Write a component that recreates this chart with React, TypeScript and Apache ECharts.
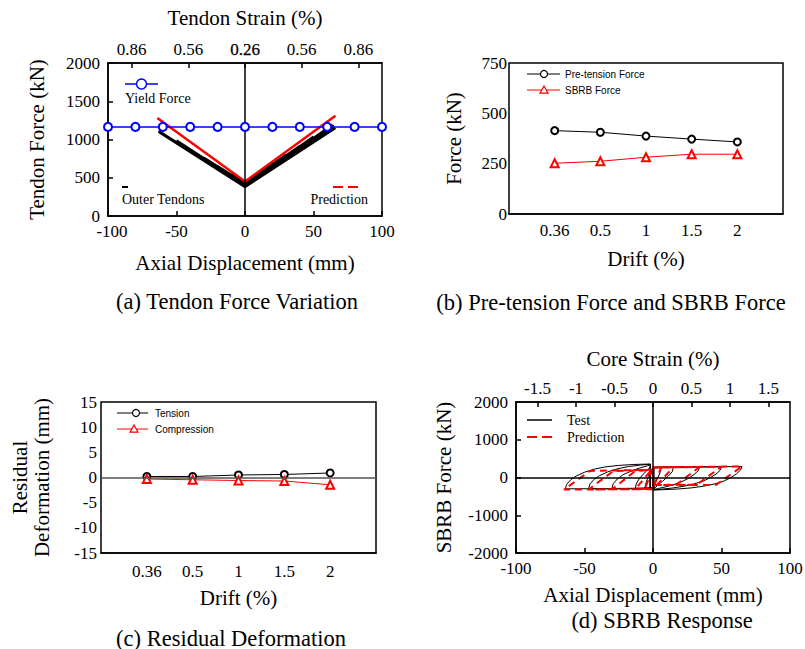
import React, { useEffect, useRef } from 'react';
import * as echarts from 'echarts';

const SERIF = '"Liberation Serif", "Times New Roman", serif';
const SANS = '"Liberation Sans", Arial, sans-serif';

// ---------- (a) Tendon Force Variation ----------
const tendonStrainPos = [-82.7, -41.35, 0, 41.35, 82.7];
const tendonStrainLabels = ['0.86', '0.56', '0.26', '0.56', '0.86'];
const yieldDisp = [-100, -80, -60, -40, -20, 0, 20, 40, 60, 80, 100];
const yieldForce = 1165;
const outerTendonPath: number[][] = [
  [0, 440], [10, 560], [0, 436], [-10, 545], [0, 432],
  [20, 680], [0, 428], [-20, 650], [0, 424],
  [30, 800], [0, 420], [-30, 760], [0, 416],
  [40, 915], [0, 412], [-40, 870], [0, 408],
  [50, 1035], [0, 404], [-50, 985], [0, 400],
  [64, 1192], [0, 396], [-63, 1112], [0, 392],
  [65, 1180], [0, 388], [-63, 1102], [0, 384],
  [65.5, 1165], [0, 382], [-62, 1090], [0, 380],
  [66, 1150], [0, 385],
];
const tendonPrediction: number[][] = [[-64, 1280], [0, 450], [66, 1310]];

// ---------- (b) & (c) ----------
const driftCats = ['', '0.36', '0.5', '1', '1.5', '2', ''];
const drifts = ['0.36', '0.5', '1', '1.5', '2'];
const pretensionForce = [414, 406, 387, 372, 358];
const sbrbForce = [252, 262, 282, 297, 297];
const residualTension = [0.2, 0.2, 0.5, 0.6, 0.9];
const residualCompression = [-0.3, -0.45, -0.6, -0.7, -1.45];

// ---------- (d) SBRB Response ----------
const coreStrainTicks = [-1.5, -1, -0.5, 0, 0.5, 1, 1.5];
const coreStrainMax = 1.78;
const sbrbTest: number[][] = [
  // right 6
  [0.5, -300], [0.5, 262], [6, 268], [5, 120], [3, -50], [1, -200], [0.5, -300],
  // left 6
  [-1, -280], [-6, -282], [-5, -130], [-3.5, 20], [-2, 150], [-2, -280],
  // right 15
  [0.5, -310], [0.5, 265], [15, 275], [14, 150], [11, 30], [7, -100], [3, -220], [0.5, -310],
  // left 13
  [-1, -283], [-13, -286], [-12, -150], [-10, -30], [-7, 90], [-4, 200], [-2, 280], [-2, -283],
  // right 34
  [0.5, -320], [0.5, 268], [34, 280], [33, 180], [30, 80], [26, -20], [21, -110], [15, -190], [9, -250], [4, -290], [0.5, -320],
  // left 30
  [-1, -285], [-30, -290], [-29, -160], [-26, -40], [-22, 70], [-16, 170], [-10, 250], [-4, 310], [-2, 335], [-2, -285],
  // right 50
  [0.5, -325], [0.5, 270], [50, 285], [49, 190], [46, 90], [42, 0], [37, -90], [30, -170], [22, -235], [14, -280], [6, -310], [0.5, -325],
  // left 47
  [-1, -288], [-47, -295], [-46, -170], [-43, -50], [-39, 50], [-33, 150], [-26, 230], [-18, 290], [-9, 330], [-2, 350], [-2, -288],
  // right 65
  [0.5, -330], [0.5, 272], [65, 290], [64, 200], [61, 100], [57, 0], [52, -90], [45, -170], [37, -230], [28, -275], [18, -305], [8, -322], [0.5, -332],
  // left 64
  [-1, -290], [-64, -300], [-63, -180], [-60, -60], [-56, 40], [-50, 140], [-43, 220], [-35, 280], [-25, 320], [-14, 345], [-2, 358], [-2, -290],
];
const sbrbPrediction: number[][] = [
  [0, -200], [0, 250], [6, 270], [1, -190], [0, -200],
  [0, -300], [-6, -310], [-1, 160], [0, 190], [0, -300],
  [0, -200], [0, 255], [15, 275], [3, -190], [0, -200],
  [0, -300], [-13, -312], [-2, 165], [0, 195], [0, -300],
  [0, -200], [0, 260], [34, 280], [17, -190], [0, -200],
  [0, -305], [-30, -315], [-13, 170], [0, 200], [0, -305],
  [0, -200], [0, 265], [50, 285], [32, -190], [0, -200],
  [0, -305], [-47, -318], [-29, 170], [0, 200], [0, -305],
  [0, -200], [0, 270], [65, 292], [46, -195], [0, -200],
  [0, -308], [-65, -320], [-46, 175], [0, 205],
];

const axisLineStyle = { color: '#000', width: 1.5 };
const plain = (v: number) => String(v);
const tickLabel = (margin: number) => ({ margin, fontSize: 17, color: '#000', fontFamily: SERIF, formatter: plain });
const nameStyle = { fontSize: 21, color: '#000', fontFamily: SERIF };
const richBase = { fontSize: 17, color: '#000', fontFamily: SERIF };

function buildOption(): any {
  const grids = [
    { left: 108, top: 63, width: 274, height: 153 },
    { left: 509, top: 63, width: 274, height: 151 },
    { left: 101, top: 402, width: 275, height: 151 },
    { left: 516, top: 402, width: 274, height: 151 },
  ].map((g) => ({ ...g, show: true, borderColor: '#000', borderWidth: 1.5, backgroundColor: 'transparent', outerBoundsMode: 'none', containLabel: false }));

  const xAxis = [
    {
      type: 'value', gridIndex: 0, min: -100, max: 100, interval: 50, position: 'bottom',
      axisLine: { onZero: false, lineStyle: axisLineStyle },
      axisTick: { inside: true, length: 5, lineStyle: axisLineStyle },
      axisLabel: {
        ...tickLabel(7),
        formatter: (v: number) => (v === -100 ? '{m|-100}' : String(v)),
        rich: { m: { ...richBase, padding: [0, 0, 0, 8] } },
      },
      splitLine: { show: false },
      name: 'Axial Displacement (mm)', nameLocation: 'middle', nameGap: 36, nameTextStyle: nameStyle,
    },
    {
      type: 'value', gridIndex: 0, min: -100, max: 100, position: 'top',
      axisLine: { onZero: false, lineStyle: axisLineStyle },
      axisTick: { inside: true, length: 5, lineStyle: axisLineStyle, customValues: tendonStrainPos },
      axisLabel: {
        ...tickLabel(5), customValues: tendonStrainPos,
        formatter: (v: number) => {
          const i = tendonStrainPos.findIndex((p) => Math.abs(p - v) < 0.01);
          if (i < 0) return '';
          return v === 0 ? `{b|${tendonStrainLabels[i]}}` : tendonStrainLabels[i];
        },
        rich: { b: { ...richBase, textBorderColor: '#000', textBorderWidth: 0.25 } },
      },
      splitLine: { show: false },
      name: 'Tendon Strain (%)', nameLocation: 'middle', nameGap: 35, nameTextStyle: nameStyle,
    },
    {
      type: 'category', gridIndex: 1, data: driftCats, boundaryGap: false,
      axisLine: { onZero: false, lineStyle: axisLineStyle }, axisTick: { show: false },
      axisLabel: { margin: 8, fontSize: 17, color: '#000', fontFamily: SERIF, interval: 0 },
      name: 'Drift (%)', nameLocation: 'middle', nameGap: 34, nameTextStyle: nameStyle,
    },
    {
      type: 'category', gridIndex: 2, data: driftCats, boundaryGap: false,
      axisLine: { onZero: false, lineStyle: axisLineStyle }, axisTick: { show: false },
      axisLabel: { margin: 10, fontSize: 17, color: '#000', fontFamily: SERIF, interval: 0 },
      name: 'Drift (%)', nameLocation: 'middle', nameGap: 34, nameTextStyle: nameStyle,
    },
    {
      type: 'value', gridIndex: 3, min: -100, max: 100, interval: 50, position: 'bottom',
      axisLine: { onZero: false, lineStyle: axisLineStyle },
      axisTick: { inside: true, length: 5, lineStyle: axisLineStyle },
      axisLabel: tickLabel(7), splitLine: { show: false },
      name: 'Axial Displacement (mm)', nameLocation: 'middle', nameGap: 31, nameTextStyle: nameStyle,
    },
    {
      type: 'value', gridIndex: 3, min: -coreStrainMax, max: coreStrainMax, position: 'top',
      axisLine: { onZero: false, lineStyle: axisLineStyle },
      axisTick: { inside: true, length: 5, lineStyle: axisLineStyle, customValues: coreStrainTicks },
      axisLabel: { ...tickLabel(5), customValues: coreStrainTicks },
      splitLine: { show: false },
      name: 'Core Strain (%)', nameLocation: 'middle', nameGap: 33, nameTextStyle: nameStyle,
    },
  ];

  const yAxis = [
    {
      type: 'value', gridIndex: 0, min: 0, max: 2000, interval: 500,
      axisLine: { onZero: false, lineStyle: axisLineStyle },
      axisTick: { inside: true, length: 5, lineStyle: axisLineStyle },
      axisLabel: tickLabel(8), splitLine: { show: false },
      name: 'Tendon Force (kN)', nameLocation: 'middle', nameGap: 61, nameTextStyle: nameStyle,
    },
    {
      type: 'value', gridIndex: 1, min: 0, max: 750, interval: 250,
      axisLine: { onZero: false, lineStyle: axisLineStyle }, axisTick: { show: false },
      axisLabel: tickLabel(2), splitLine: { show: false },
      name: 'Force (kN)', nameLocation: 'middle', nameGap: 45, nameTextStyle: nameStyle,
    },
    {
      type: 'value', gridIndex: 2, min: -15, max: 15, interval: 5,
      axisLine: { onZero: false, lineStyle: axisLineStyle },
      axisTick: { inside: true, length: 4, lineStyle: axisLineStyle },
      axisLabel: tickLabel(4), splitLine: { show: false },
      name: 'Residual\nDeformation (mm)', nameLocation: 'middle', nameGap: 48,
      nameTextStyle: { ...nameStyle, lineHeight: 22 },
    },
    {
      type: 'value', gridIndex: 3, min: -2000, max: 2000, interval: 1000,
      axisLine: { onZero: false, lineStyle: axisLineStyle },
      axisTick: { inside: true, length: 5, lineStyle: axisLineStyle },
      axisLabel: tickLabel(8), splitLine: { show: false },
      name: 'SBRB Force (kN)', nameLocation: 'middle', nameGap: 62, nameTextStyle: nameStyle,
    },
  ];

  const zeroX = (color: string) => ({
    silent: true, symbol: 'none', label: { show: false },
    lineStyle: { color, type: 'solid', width: 1.5 }, data: [{ xAxis: 0 }],
  });
  const zeroY = (color: string) => ({
    silent: true, symbol: 'none', label: { show: false },
    lineStyle: { color, type: 'solid', width: 1.5 }, data: [{ yAxis: 0 }],
  });

  const series: any[] = [
    // (a)
    {
      type: 'line', xAxisIndex: 0, yAxisIndex: 0, data: outerTendonPath, symbol: 'none',
      lineStyle: { color: '#000', width: 2.5 }, markLine: zeroX('#000'), z: 3,
    },
    {
      type: 'line', xAxisIndex: 0, yAxisIndex: 0, data: tendonPrediction, symbol: 'none',
      lineStyle: { color: '#ff0000', width: 2.5 }, z: 4,
    },
    {
      type: 'line', xAxisIndex: 0, yAxisIndex: 0, data: yieldDisp.map((d) => [d, yieldForce]),
      symbol: 'emptyCircle', symbolSize: 8, lineStyle: { color: '#0000ff', width: 1.5 },
      itemStyle: { color: '#0000ff', borderWidth: 1.5 }, z: 5,
    },
    // (b)
    {
      type: 'line', xAxisIndex: 2, yAxisIndex: 1, data: drifts.map((d, i) => [d, pretensionForce[i]]),
      symbol: 'emptyCircle', symbolSize: 7, lineStyle: { color: '#000', width: 1 },
      itemStyle: { color: '#000', borderWidth: 1.2 },
    },
    {
      type: 'line', xAxisIndex: 2, yAxisIndex: 1, data: drifts.map((d, i) => [d, sbrbForce[i]]),
      symbol: 'emptyTriangle', symbolSize: 8, lineStyle: { color: '#ff0000', width: 1 },
      itemStyle: { color: '#ff0000', borderWidth: 1.2 },
    },
    // (c)
    {
      type: 'line', xAxisIndex: 3, yAxisIndex: 2, data: drifts.map((d, i) => [d, residualTension[i]]),
      symbol: 'emptyCircle', symbolSize: 7, lineStyle: { color: '#000', width: 1 },
      itemStyle: { color: '#000', borderWidth: 1.2 }, markLine: zeroY('#555'), z: 3,
    },
    {
      type: 'line', xAxisIndex: 3, yAxisIndex: 2, data: drifts.map((d, i) => [d, residualCompression[i]]),
      symbol: 'emptyTriangle', symbolSize: 8, lineStyle: { color: '#ff0000', width: 1 },
      itemStyle: { color: '#ff0000', borderWidth: 1.2 }, z: 4,
    },
    // (d)
    {
      type: 'line', xAxisIndex: 4, yAxisIndex: 3, data: sbrbTest, symbol: 'none',
      lineStyle: { color: '#000', width: 1 }, z: 3,
      markLine: {
        silent: true, symbol: 'none', label: { show: false },
        lineStyle: { color: '#000', type: 'solid', width: 1.5 }, data: [{ xAxis: 0 }, { yAxis: 0 }],
      },
    },
    {
      type: 'line', xAxisIndex: 4, yAxisIndex: 3, data: sbrbPrediction, symbol: 'none',
      lineStyle: { color: '#ff0000', width: 2, type: [7, 5] }, z: 4,
    },
  ];

  const txt = (x: number, y: number, text: string, size: number, family: string, align = 'left') => ({
    type: 'text', x, y,
    style: { text, fill: '#000', fontSize: size, fontFamily: family, align, verticalAlign: 'middle' },
  });
  const ln = (x1: number, y1: number, x2: number, y2: number, stroke: string, lineWidth = 1, lineDash?: number[]) => ({
    type: 'line', shape: { x1, y1, x2, y2 }, style: { stroke, lineWidth, lineDash },
  });
  const circ = (cx: number, cy: number, r: number, stroke: string, lineWidth = 1.2) => ({
    type: 'circle', shape: { cx, cy, r }, style: { fill: '#fff', stroke, lineWidth },
  });
  const tri = (cx: number, cy: number, s: number, stroke: string) => ({
    type: 'polygon', shape: { points: [[cx, cy - s], [cx + s, cy + s * 0.8], [cx - s, cy + s * 0.8]] },
    style: { fill: '#fff', stroke, lineWidth: 1.2 },
  });

  const graphic = [
    // (a) legend
    ln(125, 84, 158, 84, '#0000ff', 1.5), circ(141.5, 84, 5, '#0000ff', 1.5),
    txt(125, 98, 'Yield Force', 14, SERIF),
    ln(122, 187, 128, 187, '#000', 2),
    txt(122, 199, 'Outer Tendons', 14, SERIF),
    ln(333, 187, 358, 187, '#ff0000', 2, [10, 5]),
    txt(368, 199, 'Prediction', 14, SERIF, 'right'),
    // (b) legend
    ln(527, 74, 560, 74, '#000', 1), circ(544, 74, 3.5, '#000'),
    txt(565, 74, 'Pre-tension Force', 10, SANS),
    ln(527, 90, 560, 90, '#ff0000', 1), tri(544, 90, 4, '#ff0000'),
    txt(565, 90, 'SBRB Force', 10, SANS),
    // (c) legend
    ln(117, 413, 148, 413, '#000', 1), circ(136, 413, 3.5, '#000'),
    txt(155, 413, 'Tension', 10, SANS),
    ln(117, 429, 148, 429, '#ff0000', 1), tri(134, 429, 4, '#ff0000'),
    txt(155, 429, 'Compression', 10, SANS),
    // (d) legend
    ln(527, 420, 552, 420, '#000', 1.5),
    txt(567, 420, 'Test', 14, SERIF),
    ln(527, 437, 552, 437, '#ff0000', 2, [10, 5]),
    txt(567, 437, 'Prediction', 14, SERIF),
    // captions
    txt(237, 301, '(a) Tendon Force Variation', 22.5, SERIF, 'center'),
    txt(611, 302, '(b) Pre-tension Force and SBRB Force', 22.5, SERIF, 'center'),
    txt(231, 638, '(c) Residual Deformation', 22.5, SERIF, 'center'),
    txt(662, 620, '(d) SBRB Response', 22.5, SERIF, 'center'),
  ];

  return {
    animation: false,
    backgroundColor: '#fff',
    textStyle: { fontFamily: SERIF, color: '#000' },
    grid: grids,
    xAxis,
    yAxis,
    series,
    graphic,
  };
}

export default function App() {
  const ref = useRef<HTMLDivElement>(null);
  useEffect(() => {
    if (!ref.current) return;
    const chart = echarts.init(ref.current, null, { renderer: 'svg' });
    chart.setOption(buildOption());
    return () => chart.dispose();
  }, []);
  return (
    <div
      ref={ref}
      style={{ position: 'fixed', left: 0, top: 0, width: 805, height: 649, background: '#fff' }}
    />
  );
}
